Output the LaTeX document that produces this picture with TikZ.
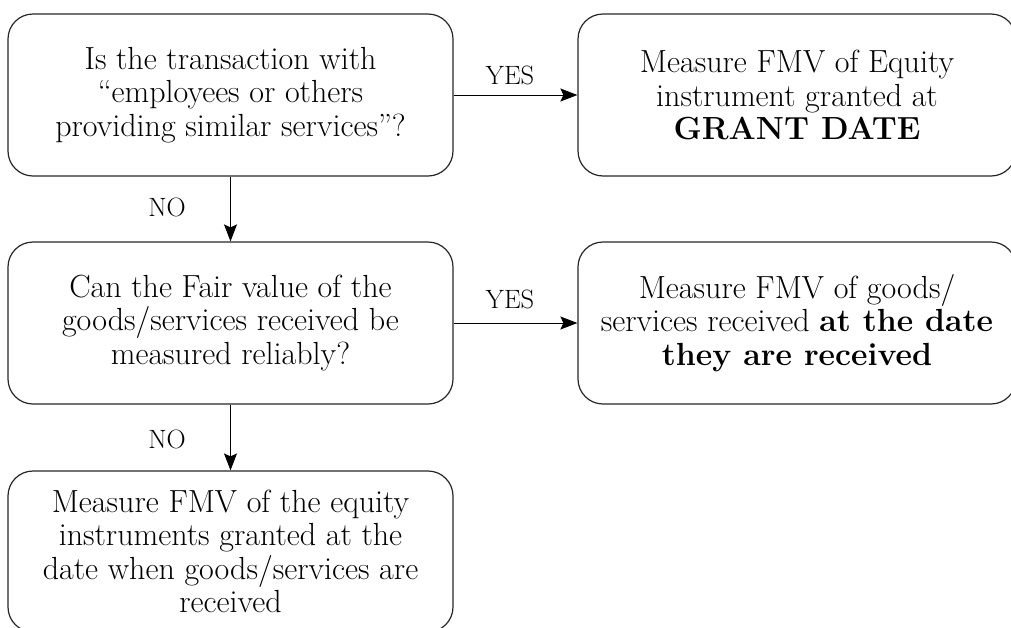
\documentclass[tikz,border=0pt]{standalone}
\usepackage{fontspec}
\usetikzlibrary{arrows.meta}
\begin{document}
\begin{tikzpicture}[x=1pt,y=-1pt,
  box/.style={draw=black!85, line width=1.2pt, rounded corners=25pt, inner sep=0pt,
    align=center, minimum height=162pt, font=\fontsize{32}{33.5}\selectfont},
  lbox/.style={box, minimum width=445pt},
  rbox/.style={box, minimum width=438pt},
  conn/.style={line width=1pt, -{Stealth[length=17pt,width=13pt,inset=3pt]}},
  lab/.style={anchor=base, inner sep=0pt, font=\fontsize{26.5}{28}\selectfont}]
\useasboundingbox (0,0) rectangle (1011,627);
\node[lbox] (b1) at (230.5,95) {Is the transaction with\\``employees or others\\providing similar services''?};
\node[rbox] (b2) at (797,95) {Measure FMV of Equity\\instrument granted at\\\textbf{GRANT DATE}};
\node[lbox] (b3) at (230.5,323) {Can the Fair value of the\\goods/services received be\\measured reliably?};
\node[rbox] (b4) at (797,323) {Measure FMV of goods/\\services received \textbf{at the date}\\\textbf{they are received}};
\node[lbox, minimum height=161pt] (b5) at (230.5,551.5) {Measure FMV of the equity\\instruments granted at the\\date when goods/services are\\received};
\draw[conn] (b1) -- (b2);
\draw[conn] (b3) -- (b4);
\draw[conn] (b1) -- (b3);
\draw[conn] (b3) -- (b5);
\node[lab] (y1) at (510,84) {YES};
\node[lab] (y2) at (510,308) {YES};
\node[lab] (n1) at (167,216) {NO};
\node[lab] (n2) at (167,448) {NO};
\end{tikzpicture}
\end{document}
